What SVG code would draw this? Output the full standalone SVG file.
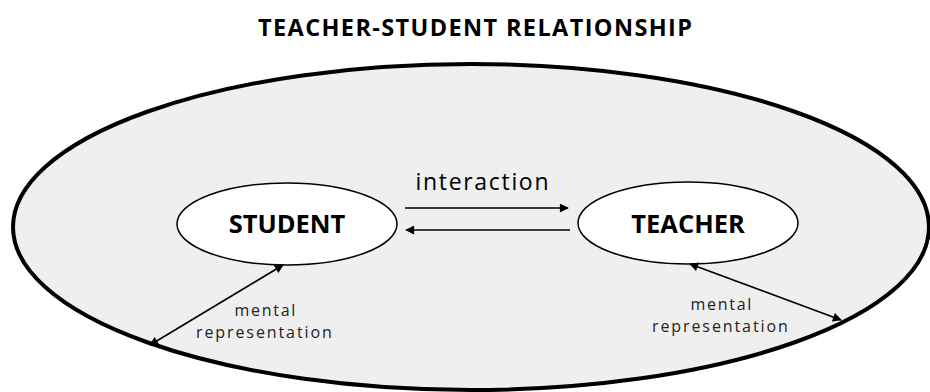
<svg xmlns="http://www.w3.org/2000/svg" width="930" height="392" viewBox="0 0 930 392">
<defs>
<marker id="ah" viewBox="0 0 10 10" refX="9" refY="5" markerWidth="11" markerHeight="9" markerUnits="userSpaceOnUse" orient="auto-start-reverse">
<path d="M0,0 L10,5 L0,10 z" fill="#000"/>
</marker>
<style>
.t{font-family:"Open Sans","Liberation Sans",sans-serif;fill:#000}
.b{font-weight:bold}
.ln{stroke:#000;stroke-width:1.6;fill:none}
.node{fill:#fff;stroke:#000;stroke-width:1.5}
.lbl{font-size:16px;letter-spacing:2.2px;fill:#222}
</style>
</defs>
<rect width="930" height="392" fill="#fff"/>
<text class="t b" x="475" y="36" text-anchor="middle" font-size="23.5" textLength="434" lengthAdjust="spacing">TEACHER-STUDENT RELATIONSHIP</text>
<g id="context">
<ellipse cx="471" cy="227" rx="458" ry="163" fill="#efefef" stroke="#000" stroke-width="4"/>
</g>
<g id="student">
<ellipse class="node" cx="287" cy="224" rx="110" ry="41"/>
<text class="t b" x="287" y="233" text-anchor="middle" font-size="25.5">STUDENT</text>
</g>
<g id="teacher">
<ellipse class="node" cx="688" cy="223" rx="110" ry="41"/>
<text class="t b" x="688" y="233" text-anchor="middle" font-size="25.5">TEACHER</text>
</g>
<g id="connectors">
<line class="ln" x1="405" y1="208" x2="568" y2="208" marker-end="url(#ah)"/>
<line class="ln" x1="570" y1="230" x2="406" y2="230" marker-end="url(#ah)"/>
<line class="ln" x1="283" y1="265" x2="150" y2="345" marker-start="url(#ah)" marker-end="url(#ah)"/>
<line class="ln" x1="690" y1="264" x2="841" y2="320" marker-start="url(#ah)" marker-end="url(#ah)"/>
</g>
<g id="labels">
<text class="t" x="482" y="190" font-size="23" text-anchor="middle" textLength="133" lengthAdjust="spacing">interaction</text>
<text class="t lbl" x="266" y="316" text-anchor="middle" textLength="63" lengthAdjust="spacing">mental</text>
<text class="t lbl" x="265" y="338" text-anchor="middle" textLength="138" lengthAdjust="spacing">representation</text>
<text class="t lbl" x="722" y="310" text-anchor="middle" textLength="63" lengthAdjust="spacing">mental</text>
<text class="t lbl" x="721" y="332" text-anchor="middle" textLength="138" lengthAdjust="spacing">representation</text>
</g>
</svg>
